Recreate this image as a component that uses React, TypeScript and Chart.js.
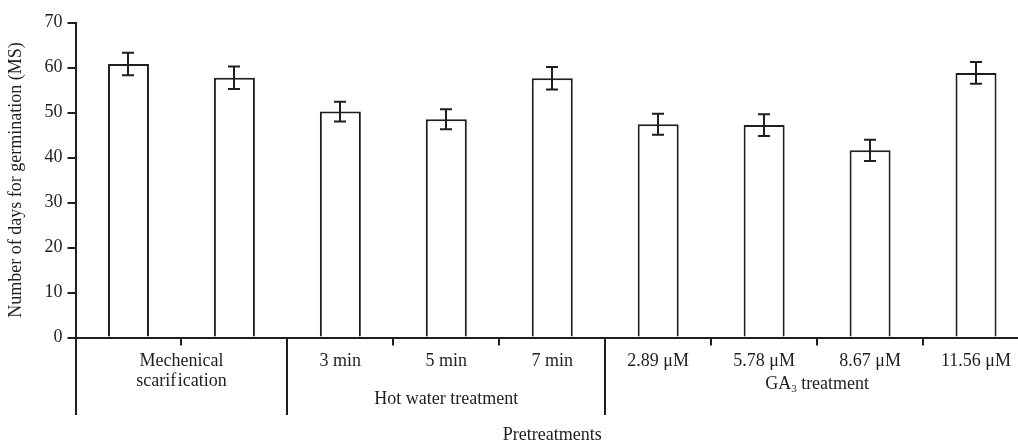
import { useEffect, useRef } from "react";
import { Chart, registerables } from "chart.js";

Chart.register(...registerables);

// ---- data ----
const categories = ["", "", "3 min", "5 min", "7 min", "2.89 μM", "5.78 μM", "8.67 μM", "11.56 μM"];
const meanDays = [60.8, 57.7, 50.2, 48.5, 57.6, 47.4, 47.2, 41.6, 58.8];
const errDays = [2.5, 2.5, 2.2, 2.2, 2.5, 2.35, 2.4, 2.35, 2.4];
const groupNames = [["Mechenical", "scarif\u200Aication"], ["Hot water treatment"], ["GA₃ treatment"]];
const groupStart = [0, 2, 5];
const groupSize = [2, 3, 4];
const yMin = 0;
const yMax = 70;
const yStep = 10;
const yTitle = "Number of days for germination (MS)";
const xTitle = "Pretreatments";

// ---- layout / style ----
const INK = "#1e1e1e";
const FONT = "'Liberation Serif', 'DejaVu Serif', serif";
const CANVAS_W = 1040;
const CANVAS_H = 442;
const groupLineBaselines = [[28.5, 48.5], [66.5], [51.5]];
const catBaseline = 28;
const xTitleBaseline = 102.5;
const longLine = 77.5;

function drawRich(ctx: CanvasRenderingContext2D, text: string, cx: number, y: number) {
  const parts = text.split("₃");
  if (parts.length === 1) {
    ctx.textAlign = "center";
    ctx.fillText(text, cx, y);
    return;
  }
  const big = `18px ${FONT}`;
  const small = `11px ${FONT}`;
  ctx.font = big;
  const w1 = ctx.measureText(parts[0]).width;
  const w3 = ctx.measureText(parts[1]).width;
  ctx.font = small;
  const w2 = ctx.measureText("3").width;
  const total = w1 + w2 + w3;
  let x = cx - total / 2;
  ctx.textAlign = "left";
  ctx.font = big;
  ctx.fillText(parts[0], x, y);
  x += w1;
  ctx.font = small;
  ctx.fillText("3", x, y + 3);
  x += w2;
  ctx.font = big;
  ctx.fillText(parts[1], x, y);
  ctx.textAlign = "center";
}

const errorBars = {
  id: "errorBars",
  afterDatasetsDraw(chart: any) {
    const { ctx } = chart;
    const ys = chart.scales.y;
    const meta = chart.getDatasetMeta(0);
    ctx.save();
    ctx.strokeStyle = INK;
    ctx.lineWidth = 2;
    meta.data.forEach((bar: any, i: number) => {
      const x = Math.round(bar.x);
      const yt = ys.getPixelForValue(meanDays[i] + errDays[i]);
      const yb = ys.getPixelForValue(meanDays[i] - errDays[i]);
      ctx.beginPath();
      ctx.moveTo(x, yt);
      ctx.lineTo(x, yb);
      ctx.moveTo(x - 6, yt);
      ctx.lineTo(x + 6, yt);
      ctx.moveTo(x - 6, yb);
      ctx.lineTo(x + 6, yb);
      ctx.stroke();
    });
    ctx.restore();
  },
};

const belowAxis = {
  id: "belowAxis",
  afterDraw(chart: any) {
    const { ctx, chartArea } = chart;
    const xs = chart.scales.x;
    const bottom = chartArea.bottom;
    const pitch = xs.getPixelForValue(1) - xs.getPixelForValue(0);
    const edge = (i: number) => xs.getPixelForValue(i) - pitch / 2;
    ctx.save();
    ctx.strokeStyle = INK;
    ctx.lineWidth = 2;
    groupStart.forEach((s) => {
      const px = Math.round(edge(s));
      ctx.beginPath();
      ctx.moveTo(px, bottom);
      ctx.lineTo(px, bottom + longLine);
      ctx.stroke();
    });
    ctx.fillStyle = INK;
    ctx.font = `18px ${FONT}`;
    ctx.textAlign = "center";
    ctx.textBaseline = "alphabetic";
    categories.forEach((c, i) => {
      if (c) ctx.fillText(c, xs.getPixelForValue(i), bottom + catBaseline);
    });
    groupNames.forEach((lines, g) => {
      const cx = (edge(groupStart[g]) + edge(groupStart[g] + groupSize[g])) / 2;
      lines.forEach((t, k) => {
        ctx.font = `18px ${FONT}`;
        drawRich(ctx, t, cx, bottom + groupLineBaselines[g][k]);
      });
    });
    ctx.font = `18px ${FONT}`;
    ctx.textAlign = "center";
    ctx.fillText(xTitle, (chartArea.left + chartArea.right) / 2, bottom + xTitleBaseline);
    ctx.restore();
  },
};

export default function App() {
  const ref = useRef<HTMLCanvasElement | null>(null);
  useEffect(() => {
    if (!ref.current) return;
    const chart = new Chart(ref.current, {
      type: "bar",
      data: {
        labels: categories,
        datasets: [
          {
            data: meanDays,
            backgroundColor: "#ffffff",
            borderColor: INK,
            borderWidth: 2,
            categoryPercentage: 1,
            barPercentage: 0.387,
          },
        ],
      },
      options: {
        animation: false,
        responsive: false,
        devicePixelRatio: 1,
        layout: { padding: { left: 0, top: 22.5, right: 11, bottom: 0 } },
        plugins: { legend: { display: false }, tooltip: { enabled: false } },
        scales: {
          x: {
            offset: true,
            grid: {
              display: true,
              offset: true,
              drawOnChartArea: false,
              drawTicks: true,
              tickLength: 8,
              color: INK,
              lineWidth: 2,
            },
            border: { display: true, color: INK, width: 2 },
            ticks: { display: false },
            afterFit: (s: any) => {
              s.height = 104.5;
            },
          },
          y: {
            min: yMin,
            max: yMax,
            ticks: {
              stepSize: yStep,
              color: INK,
              padding: 5,
              font: { family: FONT, size: 18 },
            },
            grid: {
              drawOnChartArea: false,
              drawTicks: true,
              tickLength: 8,
              color: INK,
              lineWidth: 2,
            },
            border: { display: true, color: INK, width: 2 },
            title: {
              display: true,
              text: yTitle,
              color: INK,
              font: { family: FONT, size: 18 },
              padding: { top: 5, bottom: 0 },
            },
            afterFit: (s: any) => {
              s.width = 75.5;
            },
          },
        },
      },
      plugins: [errorBars, belowAxis],
    });
    return () => chart.destroy();
  }, []);
  return (
    <div
      style={{
        position: "fixed",
        left: 0,
        top: 0,
        width: 1018,
        height: 442,
        overflow: "hidden",
        background: "#fff",
      }}
    >
      <canvas ref={ref} width={CANVAS_W} height={CANVAS_H} style={{ width: CANVAS_W, height: CANVAS_H, display: "block" }} />
    </div>
  );
}
